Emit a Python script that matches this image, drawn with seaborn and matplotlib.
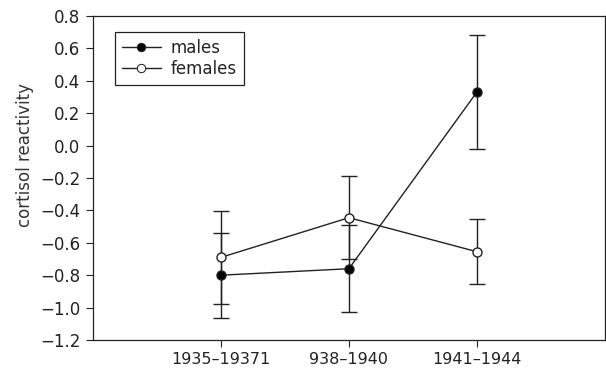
import pandas as pd
import matplotlib
matplotlib.use("Agg")
import matplotlib.pyplot as plt
import seaborn as sns

cohorts = ["1935–19371", "938–1940", "1941–1944"]
males = [-0.80, -0.76, 0.33]
males_err = [0.263, 0.267, 0.354]
females = [-0.69, -0.445, -0.655]
females_err = [0.285, 0.255, 0.20]

sns.set_style("ticks")
plt.rcParams["font.family"] = ["DejaVu Sans"]
plt.rcParams["text.color"] = "#222222"

df = pd.DataFrame({
    "x": [1, 2, 3] * 2,
    "val": males + females,
    "sex": ["males"] * 3 + ["females"] * 3,
})

fig = plt.figure(figsize=(6.06, 3.69), dpi=100)
ax = fig.add_axes([0.1535, 0.0786, 0.8445, 0.878])

for vals, errs in [(males, males_err), (females, females_err)]:
    ax.errorbar([1, 2, 3], vals, yerr=errs, fmt="none", ecolor="#222222",
                elinewidth=1.0, capsize=6, capthick=1.0, zorder=2)

sns.lineplot(data=df, x="x", y="val", hue="sex", style="sex",
             palette={"males": "#222222", "females": "#222222"},
             markers={"males": "o", "females": "o"}, dashes=False,
             linewidth=1.0, markersize=6.5, ax=ax, zorder=3)

# filled vs open markers
lines = [l for l in ax.get_lines() if len(l.get_xdata()) == 3]
lines[-2].set_markerfacecolor("black")
lines[-1].set_markerfacecolor("white")
for l in lines[-2:]:
    l.set_markeredgecolor("#222222")
    l.set_markeredgewidth(1.0)

ax.set_xlim(0, 4)
ax.set_ylim(-1.2, 0.8)
ax.set_xticks([1, 2, 3])
ax.set_xticklabels(cohorts, fontsize=11.5)
ax.set_yticks([-1.2, -1.0, -0.8, -0.6, -0.4, -0.2, 0.0, 0.2, 0.4, 0.6, 0.8])
ax.set_yticklabels([f"{v:.1f}".replace("-", "−") for v in ax.get_yticks()], fontsize=12)
ax.set_xlabel("")
ax.set_ylabel("cortisol reactivity", fontsize=12, color="#333333")
ax.yaxis.set_label_coords(-0.115, 0.571)
ax.tick_params(direction="out", length=5, width=0.8, colors="#222222", pad=4)
for s in ax.spines.values():
    s.set_visible(True)
    s.set_linewidth(0.9)
    s.set_color("#222222")

h, l = ax.get_legend_handles_labels()
h[0].set_markerfacecolor("black")
h[1].set_markerfacecolor("white")
for hh in h:
    hh.set_markeredgecolor("#222222")
    hh.set_markersize(6)
leg = ax.legend(h, l, loc="upper left", bbox_to_anchor=(0.043, 0.951),
                fontsize=12, frameon=True, fancybox=False, framealpha=1,
                edgecolor="#222222", handlelength=2.35, borderpad=0.4,
                labelspacing=0.2, handletextpad=0.6, borderaxespad=0)
leg.get_frame().set_linewidth(0.9)

fig.savefig("out.png", dpi=100)
